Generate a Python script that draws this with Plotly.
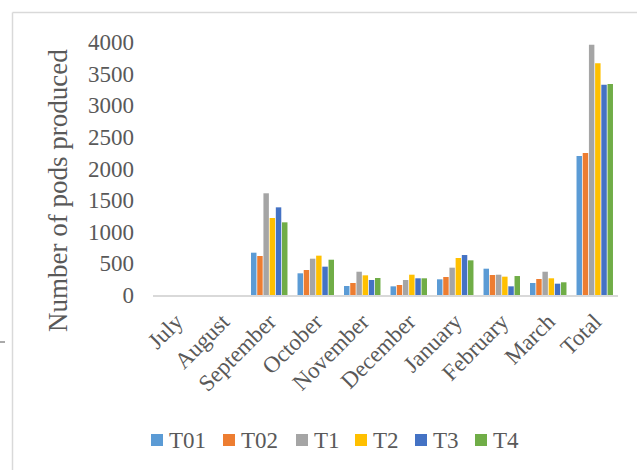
import plotly.graph_objects as go

# Monthly pod counts per treatment
months = ["July", "August", "September", "October", "November", "December",
          "January", "February", "March", "Total"]
t01 = [0, 0, 669, 343, 142, 137, 248, 416, 190, 2198]
t02 = [0, 0, 617, 395, 190, 158, 285, 316, 253, 2245]
t1 = [0, 0, 1608, 574, 368, 237, 432, 321, 368, 3957]
t2 = [0, 0, 1217, 622, 311, 321, 585, 290, 264, 3663]
t3 = [0, 0, 1386, 448, 237, 264, 632, 137, 179, 3325]
t4 = [0, 0, 1149, 558, 269, 264, 548, 300, 201, 3336]

series_names = ["T01", "T02", "T1", "T2", "T3", "T4"]
series_values = [t01, t02, t1, t2, t3, t4]
colors = ["#5B9BD5", "#ED7D31", "#A5A5A5", "#FFC000", "#4472C4", "#70AD47"]

y_ticks = [0, 500, 1000, 1500, 2000, 2500, 3000, 3500, 4000]

FONT = "Liberation Serif, Times New Roman, serif"
TEXT = "#595959"

fig = go.Figure()
for name, vals, col in zip(series_names, series_values, colors):
    fig.add_trace(go.Bar(name=name, x=months, y=vals,
                         marker=dict(color=col, line=dict(width=0))))

W, H = 637, 470
L, R, T, B = 153, 19, 42, 175
pw, ph = W - L - R, H - T - B


def px_x(p):
    return (p - L) / pw


def px_y(p):
    return (H - B - p) / ph


shapes = [
    # chart-area border
    dict(type="line", xref="paper", yref="paper",
         x0=px_x(12.5), x1=px_x(640), y0=px_y(12.5), y1=px_y(12.5),
         line=dict(color="#D9D9D9", width=1.5)),
    dict(type="line", xref="paper", yref="paper",
         x0=px_x(12.5), x1=px_x(12.5), y0=px_y(12.5), y1=px_y(472),
         line=dict(color="#D9D9D9", width=1.5)),
    # small mark at far left
    dict(type="line", xref="paper", yref="paper",
         x0=px_x(0), x1=px_x(5), y0=px_y(342), y1=px_y(342),
         line=dict(color="#555555", width=1)),
]

annotations = [dict(text="Number of pods produced", textangle=-90,
                    xref="paper", yref="paper", x=px_x(58), y=px_y(191),
                    xanchor="center", yanchor="middle", showarrow=False,
                    font=dict(family=FONT, size=27, color=TEXT))]

# legend row below the axis: square key followed by the series name
legend_left = [151, 223, 296, 355, 415, 475]
legend_cy = 440
for name, col, lx in zip(series_names, colors, legend_left):
    shapes.append(dict(type="rect", xref="paper", yref="paper",
                       x0=px_x(lx), x1=px_x(lx + 12),
                       y0=px_y(legend_cy - 6), y1=px_y(legend_cy + 6),
                       fillcolor=col, line=dict(width=0)))
    annotations.append(dict(text=name, xref="paper", yref="paper",
                            x=px_x(lx + 16), y=px_y(legend_cy),
                            xanchor="left", yanchor="middle", showarrow=False,
                            font=dict(family=FONT, size=23, color=TEXT)))

fig.update_layout(
    width=W, height=H,
    margin=dict(l=L, r=R, t=T, b=B, pad=0),
    paper_bgcolor="white", plot_bgcolor="white",
    barmode="group", bargap=0.2, bargroupgap=0.12,
    font=dict(family=FONT, color=TEXT, size=23),
    showlegend=False,
    xaxis=dict(tickangle=-45, showgrid=False, showline=True,
               linecolor="#D9D9D9", linewidth=2, ticks="",
               ticklabelstandoff=2,
               tickfont=dict(family=FONT, size=23, color=TEXT)),
    yaxis=dict(range=[0, 4000], tickvals=y_ticks, showgrid=False,
               showline=False, zeroline=False, ticks="",
               ticklabelstandoff=18,
               tickfont=dict(family=FONT, size=23, color=TEXT)),
    annotations=annotations,
    shapes=shapes,
)

fig.write_html("out.html")
